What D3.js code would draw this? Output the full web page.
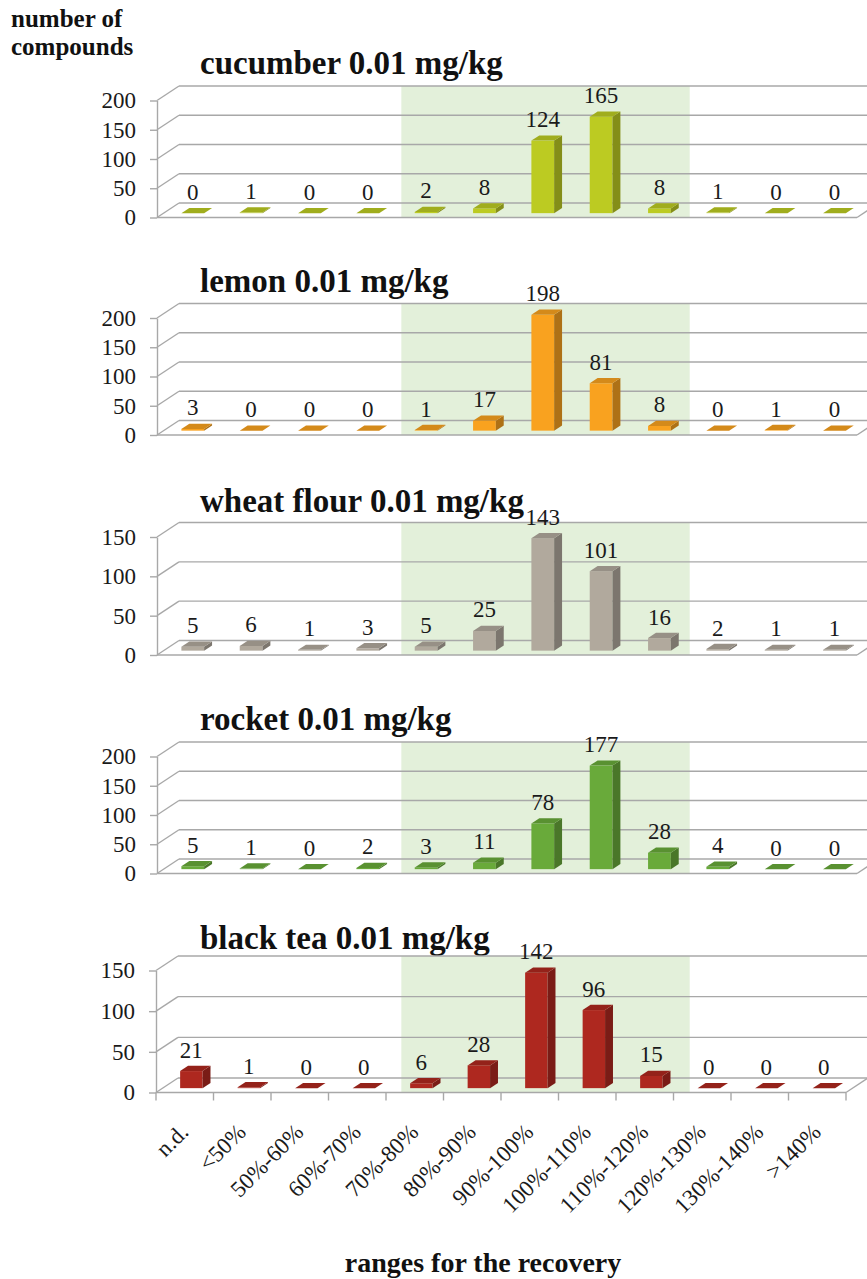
<!DOCTYPE html>
<html>
<head>
<meta charset="utf-8">
<script src="https://cdn.jsdelivr.net/npm/d3@7"></script>
<style>
  html, body { margin: 0; padding: 0; background: #ffffff; }
  svg { display: block; }
  svg text { font-family: "Liberation Serif", "DejaVu Serif", "Noto Serif", "Times New Roman", Times, Tinos, FreeSerif, Georgia, serif; fill: #1a1a1a; }
</style>
</head>
<body>
<script>
// Recovery ranges (x categories)
const categories = ["n.d.", "<50%", "50%-60%", "60%-70%", "70%-80%", "80%-90%",
  "90%-100%", "100%-110%", "110%-120%", "120%-130%", "130%-140%", ">140%"];

// Matrix titles
const titles = ["cucumber 0.01 mg/kg", "lemon 0.01 mg/kg", "wheat flour 0.01 mg/kg",
  "rocket 0.01 mg/kg", "black tea 0.01 mg/kg"];

// Number of compounds per recovery range
const cucumber   = [0, 1, 0, 0, 2, 8, 124, 165, 8, 1, 0, 0];
const lemon      = [3, 0, 0, 0, 1, 17, 198, 81, 8, 0, 1, 0];
const wheatFlour = [5, 6, 1, 3, 5, 25, 143, 101, 16, 2, 1, 1];
const rocket     = [5, 1, 0, 2, 3, 11, 78, 177, 28, 4, 0, 0];
const blackTea   = [21, 1, 0, 0, 6, 28, 142, 96, 15, 0, 0, 0];

// Value-axis maxima and tick step
const axisMax = [200, 200, 150, 200, 150];
const tickStep = 50;

// Acceptable recovery window (shaded)
const shadeFrom = "70%-80%";
const shadeTo = "110%-120%";

const seriesList = [cucumber, lemon, wheatFlour, rocket, blackTea];

// ---- presentation ----
const W = 867, H = 1279;
const FONT = "'Liberation Serif', 'DejaVu Serif', 'Noto Serif', 'Times New Roman', Times, Tinos, FreeSerif, Georgia, serif";
const barColors = ["#bccb22", "#f9a21f", "#b1a99d", "#69aa3a", "#ae281f"];
const floorY = [217.5, 435, 655, 873.5, 1092.5];
const plotH  = [117, 117, 118, 117, 122];
const xLeft  = [157, 157, 157, 157, 156];
const xRight = [857, 857, 857, 857, 846];
const DX = 22, DY = -14.5;          // depth of the 3-D floor
const barD0 = 0.3, barD1 = 0.66;    // bar depth slot (fraction of floor depth)
const barFrac = 0.39;               // bar width as fraction of the category step
const gridColor = "#a8a8a8";
const shadeColor = "#e3f0da";

const svg = d3.select("body").append("svg")
  .attr("width", W).attr("height", H)
  .attr("font-family", FONT);

// shared scale for the shaded window, common to all panels
const shadeScale = d3.scaleBand().domain(categories).range([xLeft[0], xRight[0]]);

seriesList.forEach((values, i) => {
  const x = d3.scaleBand().domain(categories).range([xLeft[i], xRight[i]]);
  const y = d3.scaleLinear().domain([0, axisMax[i]]).range([floorY[i], floorY[i] - plotH[i]]);
  const ticks = d3.range(0, axisMax[i] + 1, tickStep);
  const x0 = xLeft[i], x1 = xRight[i], y0 = floorY[i];
  const g = svg.append("g");

  // title
  g.append("text")
    .attr("x", 200).attr("y", y0 - 143.5)
    .attr("font-size", 33).attr("font-weight", "bold")
    .style("fill", "#111")
    .text(titles[i]);

  // shaded recovery window
  const sx0 = shadeScale(shadeFrom) + 0.5 * DX;
  const sx1 = shadeScale(shadeTo) + shadeScale.bandwidth() + 0.35 * DX;
  g.append("rect")
    .attr("x", sx0).attr("y", y(axisMax[i]) + DY)
    .attr("width", sx1 - sx0).attr("height", y0 - (y(axisMax[i]) + DY))
    .attr("fill", shadeColor);

  // back wall gridlines and side wall diagonals
  const walls = g.append("g").attr("stroke", gridColor).attr("stroke-width", 1.4).attr("fill", "none");
  ticks.forEach(t => {
    walls.append("line")
      .attr("x1", x0 + DX).attr("y1", y(t) + DY)
      .attr("x2", x1 + DX).attr("y2", y(t) + DY);
    walls.append("line")
      .attr("x1", x0).attr("y1", y(t))
      .attr("x2", x0 + DX).attr("y2", y(t) + DY);
  });
  // floor front and right edges
  walls.append("line").attr("x1", x0).attr("y1", y0).attr("x2", x1).attr("y2", y0);
  walls.append("line").attr("x1", x1).attr("y1", y0).attr("x2", x1 + DX).attr("y2", y0 + DY);

  // value axis
  const axis = g.append("g")
    .attr("transform", `translate(${x0},0)`)
    .call(d3.axisLeft(y).tickValues(ticks).tickSize(7).tickSizeOuter(0).tickPadding(14));
  axis.attr("font-family", FONT).attr("font-size", 23);
  axis.selectAll("path, line").attr("stroke", gridColor).attr("stroke-width", 1.4);
  axis.selectAll("text").style("fill", "#1a1a1a");

  // bars
  const step = x.step();
  const bw = step * barFrac;
  const front = d3.color(barColors[i]);
  const topC = front.darker(0.45).formatHex();
  const sideC = front.darker(1.0).formatHex();
  const dd = barD1 - barD0;

  const bars = g.selectAll("g.bar").data(values).join("g").attr("class", "bar");
  bars.each(function (v, j) {
    const b = d3.select(this);
    const xl = x(categories[j]) + barD0 * DX + (step - bw) / 2;
    const xr = xl + bw;
    const yb = y0 + barD0 * DY;
    const yt = y(v) + barD0 * DY;
    const ox = dd * DX, oy = dd * DY;
    b.append("rect")
      .attr("x", xl).attr("y", yt)
      .attr("width", bw).attr("height", Math.max(0, yb - yt))
      .attr("fill", front.formatHex());
    b.append("polygon")
      .attr("points", [[xr, yt], [xr + ox, yt + oy], [xr + ox, yb + oy], [xr, yb]].join(" "))
      .attr("fill", sideC);
    b.append("polygon")
      .attr("points", [[xl, yt], [xr, yt], [xr + ox, yt + oy], [xl + ox, yt + oy]].join(" "))
      .attr("fill", topC);
    b.append("text")
      .attr("x", (xl + xr) / 2).attr("y", yt - 13.5)
      .attr("text-anchor", "middle")
      .attr("font-size", 23)
      .text(v);
  });

  // category axis on the lowest panel
  if (i === seriesList.length - 1) {
    const bounds = categories.map(c => x(c)).concat([x1]);
    g.append("g").selectAll("line").data(bounds).join("line")
      .attr("x1", d => d).attr("x2", d => d)
      .attr("y1", y0).attr("y2", y0 + 8)
      .attr("stroke", gridColor).attr("stroke-width", 1.4);
    g.append("g").selectAll("text").data(categories).join("text")
      .attr("transform", c => `translate(${x(c) + step / 2 + 5},${y0 + 41}) rotate(-45)`)
      .attr("text-anchor", "end")
      .attr("font-size", 23)
      .text(c => c);
  }
});

// axis titles
const yTitle = svg.append("text")
  .attr("font-size", 25).attr("font-weight", "bold").style("fill", "#111");
yTitle.append("tspan").attr("x", 11).attr("y", 27).text("number of");
yTitle.append("tspan").attr("x", 11).attr("y", 55).text("compounds");

svg.append("text")
  .attr("x", 483).attr("y", 1272)
  .attr("text-anchor", "middle")
  .attr("font-size", 28).attr("font-weight", "bold")
  .style("fill", "#111")
  .text("ranges for the recovery");
</script>
</body>
</html>
